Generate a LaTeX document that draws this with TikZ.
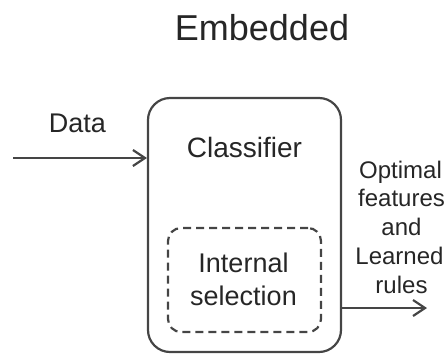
\documentclass[tikz,border=0pt]{standalone}
\usepackage{fontspec}
\setmainfont{Liberation Sans}
\usetikzlibrary{arrows.meta}
\definecolor{ln}{gray}{0.27}
\definecolor{tx}{gray}{0.15}
\begin{document}
\begin{tikzpicture}[x=1pt,y=-1pt,
  box/.style={draw=ln, line width=2.2pt, rounded corners=22pt, inner sep=0pt},
  dbox/.style={draw=ln, line width=2.2pt, rounded corners=13pt, inner sep=0pt, dash pattern=on 8pt off 5pt},
  lbl/.style={text=tx, inner sep=0pt, anchor=base},
  big/.style={font=\fontsize{36}{40}\selectfont},
  mid/.style={font=\fontsize{27}{30}\selectfont},
  sml/.style={font=\fontsize{24}{29}\selectfont},
  conn/.style={draw=ln, line width=2.2pt, -{Straight Barb[length=12pt,width=16pt,line width=2.2pt]}}]
\useasboundingbox (0,0) rectangle (447,354);
\node[box, minimum width=193pt, minimum height=254pt] (cls) at (244.5,225) {};
\node[dbox, minimum width=153pt, minimum height=104pt] (sel) at (244.5,280) {};
\node[lbl, big] (title) at (262,40) {Embedded};
\node[lbl, mid] (data) at (77.5,132) {Data};
\node[lbl, mid, font=\fontsize{28}{30}\selectfont] (clsl) at (244.5,157) {Classifier};
\node[lbl, mid] (sel1) at (243.5,272) {Internal};
\node[lbl, mid] (sel2) at (243.5,305) {selection};
\node[lbl, sml] (o1) at (400.5,178) {Optimal};
\node[lbl, sml] (o2) at (401.5,206) {features};
\node[lbl, sml] (o3) at (401.5,235) {and};
\node[lbl, sml] (o4) at (399.5,264) {Learned};
\node[lbl, sml] (o5) at (401.5,293) {rules};
\coordinate (in) at (13,158);
\coordinate (out) at (427,308);
\draw[conn] (in) -- (in -| cls.west);
\draw[conn] (out -| cls.east) -- (out);
\end{tikzpicture}
\end{document}
